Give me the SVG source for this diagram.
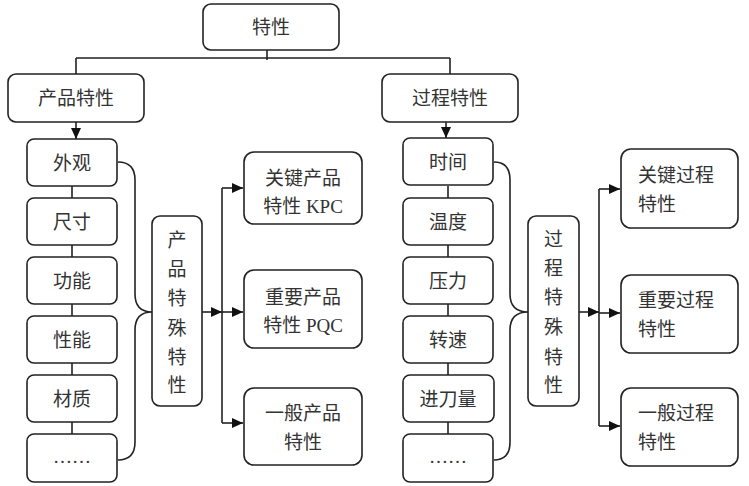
<svg xmlns="http://www.w3.org/2000/svg" width="749" height="486" viewBox="0 0 749 486">
<defs>
<style>
.box{fill:#fff;stroke:#222;stroke-width:1.6}
.ln{fill:none;stroke:#222;stroke-width:1.6}
.t{font-family:"Liberation Serif","Noto Sans CJK SC",sans-serif;font-size:19px;fill:#333;dominant-baseline:central}
.c{text-anchor:middle}
</style>
<marker id="ah" markerUnits="userSpaceOnUse" markerWidth="11" markerHeight="10" refX="11" refY="5" orient="auto">
<path d="M0,0 L11,5 L0,10 Z" fill="#111"/>
</marker>
</defs>
<rect width="749" height="486" fill="#fff"/>
<g id="connectors">
<path class="ln" d="M267,50 V60 M76,58 H450 M76,58 V74 M450,58 V74"/>
<path class="ln" d="M76,122 V139" marker-end="url(#ah)"/>
<path class="ln" d="M446,122 V138" marker-end="url(#ah)"/>
<path class="ln" d="M72,186 V198 M72,245 V257 M72,304 V316 M72,363 V375 M72,422 V434"/>
<path class="ln" d="M448,186 V198 M448,245 V257 M448,304 V316 M448,363 V375 M448,422 V434"/>
<path class="ln" d="M118,162 Q135,162 135,180 L135,294 Q135,312 152,312 Q135,312 135,330 L135,442 Q135,460 118,460"/>
<path class="ln" d="M494,162 Q510,162 510,180 L510,294 Q510,312 528,312 Q510,312 510,330 L510,442 Q510,460 494,460"/>
<path class="ln" d="M202,312 H222" marker-end="url(#ah)"/>
<path class="ln" d="M222,188 V423"/>
<path class="ln" d="M222,188 H243" marker-end="url(#ah)"/>
<path class="ln" d="M222,312 H243" marker-end="url(#ah)"/>
<path class="ln" d="M222,423 H243" marker-end="url(#ah)"/>
<path class="ln" d="M579,312 H599" marker-end="url(#ah)"/>
<path class="ln" d="M599,189 V426"/>
<path class="ln" d="M599,189 H620" marker-end="url(#ah)"/>
<path class="ln" d="M599,313 H620" marker-end="url(#ah)"/>
<path class="ln" d="M599,426 H620" marker-end="url(#ah)"/>
</g>
<g id="n-root"><rect class="box" x="203" y="4" width="136" height="46" rx="8"/><text class="t c" x="271" y="27">特性</text></g>
<g id="n-product"><rect class="box" x="8" y="74" width="136" height="48" rx="8"/><text class="t c" x="76" y="98">产品特性</text></g>
<g id="n-process"><rect class="box" x="382" y="74" width="136" height="48" rx="8"/><text class="t c" x="450" y="98">过程特性</text></g>
<g id="n-waiguan"><rect class="box" x="27" y="139" width="90" height="47" rx="7"/><text class="t c" x="72" y="163">外观</text></g>
<g id="n-chicun"><rect class="box" x="27" y="198" width="90" height="47" rx="7"/><text class="t c" x="72" y="222">尺寸</text></g>
<g id="n-gongneng"><rect class="box" x="27" y="257" width="90" height="47" rx="7"/><text class="t c" x="72" y="281">功能</text></g>
<g id="n-xingneng"><rect class="box" x="27" y="316" width="90" height="47" rx="7"/><text class="t c" x="72" y="340">性能</text></g>
<g id="n-caizhi"><rect class="box" x="27" y="375" width="90" height="47" rx="7"/><text class="t c" x="72" y="399">材质</text></g>
<g id="n-etc1"><rect class="box" x="27" y="434" width="90" height="48" rx="7"/><text class="t c" x="72" y="456">……</text></g>
<g id="n-pspecial"><rect class="box" x="152" y="216" width="50" height="190" rx="8"/>
<text class="t c" x="177" y="240">产</text><text class="t c" x="177" y="269">品</text><text class="t c" x="177" y="298">特</text><text class="t c" x="177" y="328">殊</text><text class="t c" x="177" y="357">特</text><text class="t c" x="177" y="385">性</text></g>
<g id="n-kpc"><rect class="box" x="244" y="152" width="118" height="72" rx="10"/><text class="t c" x="303" y="178">关键产品</text><text class="t c" x="303" y="206">特性 KPC</text></g>
<g id="n-pqc"><rect class="box" x="244" y="270" width="118" height="78" rx="10"/><text class="t c" x="303" y="297">重要产品</text><text class="t c" x="303" y="325">特性 PQC</text></g>
<g id="n-pgen"><rect class="box" x="244" y="388" width="118" height="77" rx="10"/><text class="t c" x="303" y="413">一般产品</text><text class="t c" x="303" y="442">特性</text></g>
<g id="n-shijian"><rect class="box" x="403" y="138" width="90" height="47" rx="7"/><text class="t c" x="448" y="162">时间</text></g>
<g id="n-wendu"><rect class="box" x="403" y="198" width="90" height="47" rx="7"/><text class="t c" x="448" y="222">温度</text></g>
<g id="n-yali"><rect class="box" x="403" y="257" width="90" height="47" rx="7"/><text class="t c" x="448" y="281">压力</text></g>
<g id="n-zhuansu"><rect class="box" x="403" y="316" width="90" height="47" rx="7"/><text class="t c" x="448" y="340">转速</text></g>
<g id="n-jindao"><rect class="box" x="403" y="375" width="91" height="47" rx="7"/><text class="t c" x="448" y="399">进刀量</text></g>
<g id="n-etc2"><rect class="box" x="403" y="434" width="90" height="48" rx="7"/><text class="t c" x="448" y="456">……</text></g>
<g id="n-cspecial"><rect class="box" x="528" y="216" width="51" height="190" rx="8"/>
<text class="t c" x="553.5" y="239">过</text><text class="t c" x="553.5" y="268">程</text><text class="t c" x="553.5" y="297">特</text><text class="t c" x="553.5" y="327">殊</text><text class="t c" x="553.5" y="357">特</text><text class="t c" x="553.5" y="385">性</text></g>
<g id="n-ckey"><rect class="box" x="621" y="149" width="117" height="79" rx="10"/><text class="t" x="638" y="175">关键过程</text><text class="t" x="638" y="204">特性</text></g>
<g id="n-cimp"><rect class="box" x="621" y="275" width="117" height="78" rx="10"/><text class="t" x="638" y="300">重要过程</text><text class="t" x="638" y="329">特性</text></g>
<g id="n-cgen"><rect class="box" x="621" y="388" width="117" height="78" rx="10"/><text class="t" x="638" y="413">一般过程</text><text class="t" x="638" y="442">特性</text></g>
</svg>
